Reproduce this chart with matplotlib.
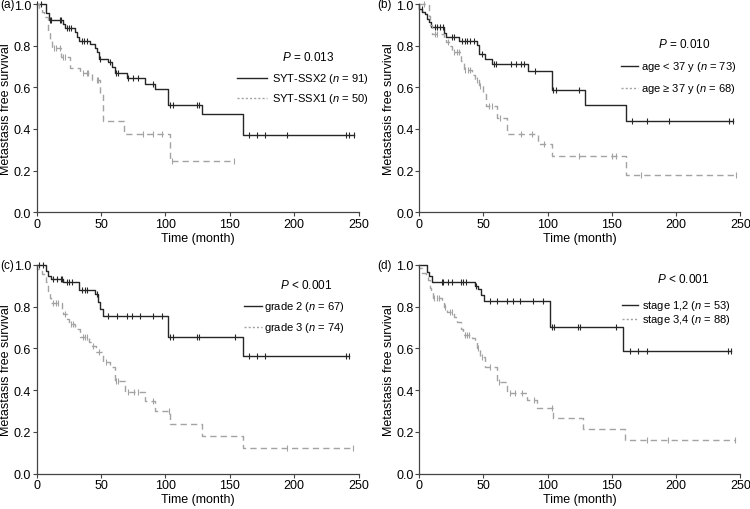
import numpy as np
import matplotlib
matplotlib.use("Agg")
import matplotlib.pyplot as plt

plt.rcParams['font.family'] = ['Liberation Sans', 'DejaVu Sans']
plt.rcParams['mathtext.fontset'] = 'custom'
plt.rcParams['mathtext.rm'] = 'Liberation Sans'
plt.rcParams['mathtext.it'] = 'Liberation Sans:italic'
plt.rcParams['font.size'] = 8

# ---- data (event time, survival after event) ----
# (a) fusion type
a1_t = [7.5, 9.3, 20.5, 21.8, 29.6, 30.9, 33, 41.3, 45.2, 46.5, 48.3, 55.5, 58.2, 60.7,
        69.8, 84.1, 91.9, 102.3, 128.3, 160.2]
a1_s = [0.957, 0.924, 0.903, 0.884, 0.868, 0.841, 0.823, 0.807, 0.787, 0.771, 0.736, 0.723,
        0.699, 0.667, 0.646, 0.618, 0.591, 0.513, 0.47, 0.373]
a1_c = [0.2, 3.6, 10.6, 11.4, 17.9, 19.2, 23.6, 25.2, 27, 34.8, 36.6, 38.7, 49, 56.8, 61.5,
        62.8, 71, 75, 78.9, 90.6, 103.6, 106.2, 124.4, 126.2, 164.6, 171.3, 177, 194.7, 240,
        242.7, 246.6]
a2_t = [2, 4, 6, 8.5, 9, 10, 11.5, 19.2, 25.7, 33.5, 42.6, 49, 51.1, 68, 103.6]
a2_s = [0.98, 0.96, 0.94, 0.90, 0.868, 0.828, 0.791, 0.747, 0.691, 0.667, 0.634, 0.57,
        0.436, 0.377, 0.248]
a2_c = [13.2, 15.3, 17.9, 20.5, 21.8, 36.1, 38.7, 40, 46.5, 47.7, 82.8, 90.6, 97.1, 104.8,
        153.4]

# (b) age
b1_t = [0, 2.5, 4.5, 6, 7.5, 9, 19, 20.6, 30.7, 45, 46.9, 51, 56.8, 84.9, 103.1, 128.9, 160.9]
b1_s = [0.976, 0.963, 0.952, 0.928, 0.912, 0.888, 0.859, 0.84, 0.824, 0.803, 0.76, 0.736,
        0.712, 0.68, 0.589, 0.515, 0.437]
b1_c = [2, 12, 13.8, 16.4, 18.2, 25.5, 26.8, 33.3, 35.4, 37.3, 39.8, 42.4, 48.5, 58, 59.4,
        71.1, 75, 78.9, 81.5, 90.1, 104.4, 106.8, 124.5, 165.6, 177.6, 194.8, 241.2, 244.3]
b2_t = [7.3, 8.5, 10, 19, 20.6, 24.2, 25.5, 32.8, 34.5, 41.2, 43.8, 46.4, 49.5, 51.6, 60.7,
        68.5, 92.7, 103.6, 160.9]
b2_s = [0.944, 0.90, 0.856, 0.835, 0.819, 0.80, 0.771, 0.728, 0.685, 0.659, 0.637, 0.605,
        0.568, 0.512, 0.451, 0.376, 0.328, 0.269, 0.179]
b2_c = [4, 12, 14, 22.3, 26.8, 29.4, 30.7, 35.9, 38, 39.8, 45, 47.5, 54.2, 56.3, 62.8, 78.9,
        88, 97.1, 124.5, 150, 153.6, 172.7, 246.9]

# (c) grade
c1_t = [7.2, 9, 10.9, 20.7, 33.1, 45.3, 47.9, 49.2, 51.3, 102.3, 160.1]
c1_s = [0.971, 0.947, 0.932, 0.916, 0.881, 0.86, 0.82, 0.788, 0.756, 0.653, 0.562]
c1_c = [2, 4.7, 12.9, 15.5, 18.6, 19.4, 23.3, 25.3, 27.2, 35, 37.5, 38.9, 46.5, 55.7, 62.6,
        69.9, 73.8, 80.3, 90.2, 97.1, 103.6, 105.7, 124.3, 126.1, 154.1, 165.2, 171.5, 177.4,
        240.4, 242.9]
c2_t = [0, 2, 4, 5.5, 7, 8.5, 10, 11, 19.4, 20.7, 23.8, 25.3, 29.8, 33.7, 40.9, 42.7, 46.1,
        51.8, 57, 60.9, 68.6, 84.2, 91.9, 103.6, 128.2, 160.6]
c2_s = [0.979, 0.968, 0.956, 0.94, 0.916, 0.876, 0.839, 0.815, 0.788, 0.764, 0.741, 0.717,
        0.693, 0.656, 0.632, 0.61, 0.584, 0.534, 0.51, 0.446, 0.39, 0.35, 0.298, 0.239, 0.18,
        0.123]
c2_c = [12.9, 15, 16.8, 22, 27, 28.5, 35.8, 37.5, 39, 44, 48, 54, 61.6, 63.3, 71.2, 75.6, 79,
        90.1, 103, 194.3, 246.1]

# (d) stage
d1_t = [6.3, 7.8, 9.6, 43.4, 45.7, 47.8, 50.4, 101.9, 159]
d1_s = [0.967, 0.947, 0.916, 0.9, 0.884, 0.855, 0.828, 0.701, 0.585]
d1_c = [17.4, 18.7, 22.6, 25.2, 32.3, 34.3, 36.4, 44.5, 55.1, 60.3, 68.1, 73.3, 78.5, 88.9,
        96.6, 103, 104.8, 123.9, 125.3, 153.1, 164.2, 170.7, 177.2, 240.8, 243]
d2_t = [0, 2.5, 5, 7, 8.5, 9.5, 10.5, 17.4, 19.5, 21.3, 27, 29.5, 32.2, 33.8, 40.8, 43.4,
        44.7, 47.3, 51.2, 60.3, 60.8, 68.1, 83.7, 92, 104, 127.8, 160.3]
d2_s = [0.984, 0.96, 0.945, 0.928, 0.89, 0.868, 0.839, 0.82, 0.796, 0.772, 0.749, 0.728,
        0.693, 0.664, 0.648, 0.629, 0.60, 0.557, 0.51, 0.486, 0.438, 0.387, 0.355, 0.314,
        0.266, 0.215, 0.164]
d2_c = [11.5, 13.5, 15.6, 20, 24, 25.8, 35.7, 37.5, 39, 45.5, 48.5, 55, 62, 70.7, 74.6, 79.8,
        89.3, 103.2, 177.2, 194.1, 246.1]

ends = {'a': (246.6, 153.4), 'b': (244.3, 246.9), 'c': (242.9, 246.1), 'd': (243, 246.1)}

panels = [
    ('a', (a1_t, a1_s, a1_c), (a2_t, a2_s, a2_c), '$P$ = 0.013',
     ['SYT-SSX2 ($n$ = 91)', 'SYT-SSX1 ($n$ = 50)']),
    ('b', (b1_t, b1_s, b1_c), (b2_t, b2_s, b2_c), '$P$ = 0.010',
     ['age < 37 y ($n$ = 73)', 'age \u2265 37 y ($n$ = 68)']),
    ('c', (c1_t, c1_s, c1_c), (c2_t, c2_s, c2_c), '$P$ < 0.001',
     ['grade 2 ($n$ = 67)', 'grade 3 ($n$ = 74)']),
    ('d', (d1_t, d1_s, d1_c), (d2_t, d2_s, d2_c), '$P$ < 0.001',
     ['stage 1,2 ($n$ = 53)', 'stage 3,4 ($n$ = 88)']),
]

# axes rectangles in figure fraction and legend layout in axes fraction
rects = {'a': [0.049, 0.582, 0.429, 0.408], 'b': [0.559, 0.582, 0.428, 0.408],
         'c': [0.049, 0.069, 0.429, 0.410], 'd': [0.559, 0.069, 0.428, 0.410]}
leg = {  # P center (x, y), line x0, x1, text x, row y1, row y2
    'a': (0.844, 0.75, 0.623, 0.715, 0.732, 0.645, 0.549),
    'b': (0.825, 0.81, 0.628, 0.681, 0.69, 0.702, 0.597),
    'c': (0.838, 0.904, 0.643, 0.70, 0.707, 0.801, 0.704),
    'd': (0.823, 0.932, 0.631, 0.683, 0.693, 0.806, 0.742),
}

dark = '#262626'
light = '#a3a3a3'

fig = plt.figure(figsize=(7.5, 5.1), dpi=100)


def km(ax, t, s, c, end, color, ls):
    xs = np.concatenate([[0.0], t, [end]])
    ys = np.concatenate([[1.0], s, [s[-1]]])
    ax.step(xs, ys, where='post', color=color, lw=1.0, linestyle=ls, clip_on=False)
    # censor marks at the current step value
    tt = np.asarray(t)
    ss = np.concatenate([[1.0], s])
    cy = ss[np.searchsorted(tt, c, side='right')]
    ax.plot(c, cy, linestyle='none', marker='|', ms=5, mew=0.8, color=color, clip_on=False)


for key, g1, g2, ptxt, labels in panels:
    ax = fig.add_axes(rects[key])
    km(ax, *g1, ends[key][0], dark, '-')
    km(ax, *g2, ends[key][1], light, (0, (4.5, 3)))
    ax.set_xlim(0, 250)
    ax.set_ylim(0, 1.0)
    ax.set_xticks([0, 50, 100, 150, 200, 250])
    ax.set_yticks([0.0, 0.2, 0.4, 0.6, 0.8, 1.0])
    ax.set_yticklabels(['0.0', '0.2', '0.4', '0.6', '0.8', '1.0'])
    for sp in ['top', 'right']:
        ax.spines[sp].set_visible(False)
    for sp in ['left', 'bottom']:
        ax.spines[sp].set_color('#444444')
        ax.spines[sp].set_linewidth(0.9)
    ax.tick_params(direction='out', length=3, width=0.8, color='#444444', labelsize=9, pad=1)
    ax.set_xlabel('Time (month)', fontsize=9, labelpad=1.5)
    ax.set_ylabel('Metastasis free survival', fontsize=9, labelpad=1)

    px, py, lx0, lx1, tx, r1, r2 = leg[key]
    ax.text(px, py, ptxt, transform=ax.transAxes, ha='center', va='center', fontsize=8.5)
    ax.plot([lx0, lx1], [r1, r1], transform=ax.transAxes, color=dark, lw=1.0, clip_on=False)
    ax.plot([lx0, lx1], [r2, r2], transform=ax.transAxes, color=light, lw=1.0,
            linestyle=(0, (1.5, 1.5)), clip_on=False)
    ax.text(tx, r1, labels[0], transform=ax.transAxes, ha='left', va='center', fontsize=8)
    ax.text(tx, r2, labels[1], transform=ax.transAxes, ha='left', va='center', fontsize=8)

    l, b, w, h = rects[key]
    fig.text(l - 0.049 if key in 'ac' else l - 0.056, b + h, '(%s)' % key,
             ha='left', va='center', fontsize=8.5)

fig.savefig('out.png', dpi=100)
